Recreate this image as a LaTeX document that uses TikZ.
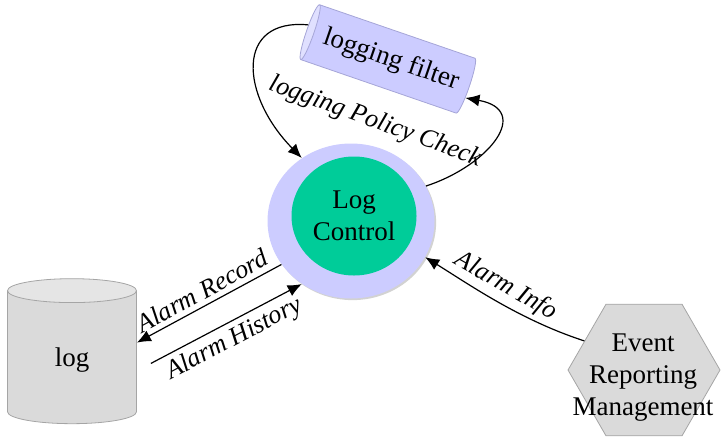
\documentclass[tikz,border=0pt]{standalone}
\usepackage{fontspec}
\setmainfont{Liberation Serif}
\usetikzlibrary{shapes.geometric,shadows,arrows.meta}
\definecolor{lavender}{RGB}{204,204,255}
\definecolor{lavedge}{RGB}{165,165,215}
\definecolor{mint}{RGB}{0,204,153}
\definecolor{stone}{RGB}{218,218,218}
\definecolor{stoneedge}{RGB}{165,165,165}
\tikzset{flow/.style={-{Latex[length=7pt,width=6pt]},semithick},
  tag/.style={font=\itshape\fontsize{13}{15}\selectfont,sloped,inner sep=2.5pt},
  body/.style={font=\fontsize{13.5}{16}\selectfont,align=center}}

\begin{document}
\begin{tikzpicture}[x=0.5pt,y=-0.5pt,body]
    \useasboundingbox (0,0) rectangle (722,440);
    \node[ellipse,fill=lavender,minimum width=83.5pt,minimum height=77.5pt,
        drop shadow={shadow xshift=0.8pt,shadow yshift=-0.8pt,fill=black!35}] (ctrl) at (351,221) {};
    \node[ellipse,fill=mint,minimum width=62.5pt,minimum height=59.5pt,inner sep=0pt] (core) at (354,216) {Log\\Control};
    \node[cylinder,shape border rotate=180,rotate=-19,aspect=0.2,draw=lavedge,
        cylinder uses custom fill,cylinder body fill=lavender,cylinder end fill=lavender!60!white,
        minimum width=29pt,minimum height=86pt] (filter) at (391,60) {logging filter};
    \node[cylinder,shape border rotate=90,aspect=0.5,draw=stoneedge,
        cylinder uses custom fill,cylinder body fill=stone,cylinder end fill=stone!70!white,
        minimum width=64.5pt,minimum height=72.5pt] (log) at (72,360) {log};
    \node[regular polygon,regular polygon sides=6,minimum size=76pt,inner sep=0pt,
        fill=stone,draw=stoneedge] (erm) at (644,370) {};
    \node (ermtext) at (643,378) {Event\\Reporting\\Management};
    % arrows
    \draw[flow] (filter.176) .. controls (235,18) and (240,95) .. (ctrl.128);
    \node[tag,rotate=-20] (policy) at (375,122) {logging Policy Check};
    \draw[flow] (ctrl.25) .. controls (490,165) and (532,110) .. (filter.-8);
    \draw[flow] (ctrl.212) -- node[tag,above]{Alarm Record} (log.15);
    \draw[flow] ([xshift=7pt]log.-3) -- node[tag,below]{Alarm History} (ctrl.232);
    \draw[flow] (erm.154) .. controls (520,320) and (470,285) .. node[tag,above]{Alarm Info} (ctrl.-26);
\end{tikzpicture}
\end{document}
